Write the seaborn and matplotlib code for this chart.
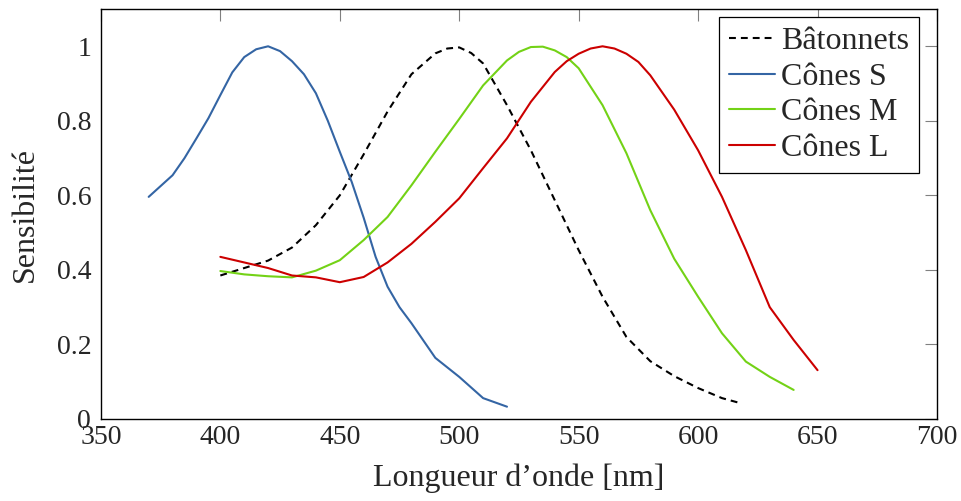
import numpy as np
import matplotlib
matplotlib.use("Agg")
import matplotlib.pyplot as plt
import seaborn as sns

# longueurs d'onde (nm) et sensibilités
rods_x = [400, 410, 420, 430, 440, 450, 460, 470, 480, 490, 495, 500, 505, 510,
          520, 530, 540, 550, 560, 570, 580, 590, 600, 610, 618]
rods_y = [0.385, 0.405, 0.425, 0.46, 0.52, 0.60, 0.71, 0.825, 0.925, 0.981, 0.994,
          0.997, 0.982, 0.954, 0.842, 0.721, 0.587, 0.453, 0.328, 0.22, 0.155,
          0.115, 0.083, 0.056, 0.042]

s_x = [370, 380, 385, 390, 395, 400, 405, 410, 415, 420, 425, 430, 435, 440, 445,
       450, 455, 460, 465, 470, 475, 480, 490, 500, 510, 520]
s_y = [0.596, 0.654, 0.70, 0.753, 0.807, 0.869, 0.93, 0.971, 0.992, 1.0, 0.987,
       0.96, 0.925, 0.874, 0.80, 0.717, 0.636, 0.54, 0.435, 0.355, 0.30, 0.257,
       0.164, 0.113, 0.056, 0.033]

m_x = [400, 410, 420, 430, 440, 450, 460, 470, 480, 490, 500, 510, 520, 525, 530,
       535, 540, 545, 550, 560, 570, 580, 590, 600, 610, 620, 630, 640]
m_y = [0.397, 0.388, 0.383, 0.38, 0.398, 0.426, 0.48, 0.542, 0.627, 0.717, 0.805,
       0.895, 0.962, 0.985, 0.998, 0.999, 0.989, 0.971, 0.941, 0.842, 0.713, 0.56,
       0.43, 0.328, 0.23, 0.154, 0.113, 0.078]

l_x = [400, 410, 420, 430, 440, 450, 460, 470, 480, 490, 500, 510, 520, 530, 540,
       545, 550, 555, 560, 565, 570, 575, 580, 590, 600, 610, 620, 630, 640, 650]
l_y = [0.435, 0.42, 0.405, 0.385, 0.38, 0.367, 0.381, 0.42, 0.47, 0.529, 0.592,
       0.673, 0.753, 0.851, 0.931, 0.96, 0.98, 0.994, 1.0, 0.994, 0.98, 0.958,
       0.922, 0.83, 0.721, 0.596, 0.453, 0.30, 0.212, 0.131]

x_ticks = [350, 400, 450, 500, 550, 600, 650, 700]
y_ticks = [0, 0.2, 0.4, 0.6, 0.8, 1]
y_tick_labels = ["0", "0.2", "0.4", "0.6", "0.8", "1"]

sns.set_style("white")
plt.rcParams['font.family'] = ['Liberation Serif', 'DejaVu Serif']

fig = plt.figure(figsize=(9.61, 5.01), dpi=100)
ax = fig.add_axes([0.105, 0.1637, 0.870, 0.8183])

sns.lineplot(x=rods_x, y=rods_y, ax=ax, color='black', lw=1.5,
             linestyle=(0, (3.3, 2.4)), label='Bâtonnets')
sns.lineplot(x=s_x, y=s_y, ax=ax, color='#3465a4', lw=1.5, label='Cônes S')
sns.lineplot(x=m_x, y=m_y, ax=ax, color='#73d216', lw=1.5, label='Cônes M')
sns.lineplot(x=l_x, y=l_y, ax=ax, color='#cc0000', lw=1.5, label='Cônes L')

ax.set_xlim(350, 700)
ax.set_ylim(0, 1.1)
ax.set_xticks(x_ticks)
ax.set_yticks(y_ticks)
ax.set_yticklabels(y_tick_labels)
ax.tick_params(direction='in', length=8.5, width=0.8, color='#808080',
               top=True, right=True, labelsize=20)
ax.tick_params(axis='x', pad=4)
ax.tick_params(axis='y', pad=7)
for sp in ax.spines.values():
    sp.set_color('black')
    sp.set_linewidth(1.0)

ax.set_xlabel('Longueur d’onde [nm]', fontsize=23, labelpad=10)
ax.set_ylabel('Sensibilité', fontsize=23, labelpad=12)

leg = ax.legend(loc='upper right', bbox_to_anchor=(0.9785, 0.9805), frameon=True,
                fancybox=False, framealpha=1, edgecolor='black', fontsize=23,
                handlelength=1.45, handletextpad=0.2, borderpad=0.3,
                labelspacing=0.2, borderaxespad=0)
leg.get_frame().set_linewidth(0.9)

fig.savefig('out.png', dpi=100)
